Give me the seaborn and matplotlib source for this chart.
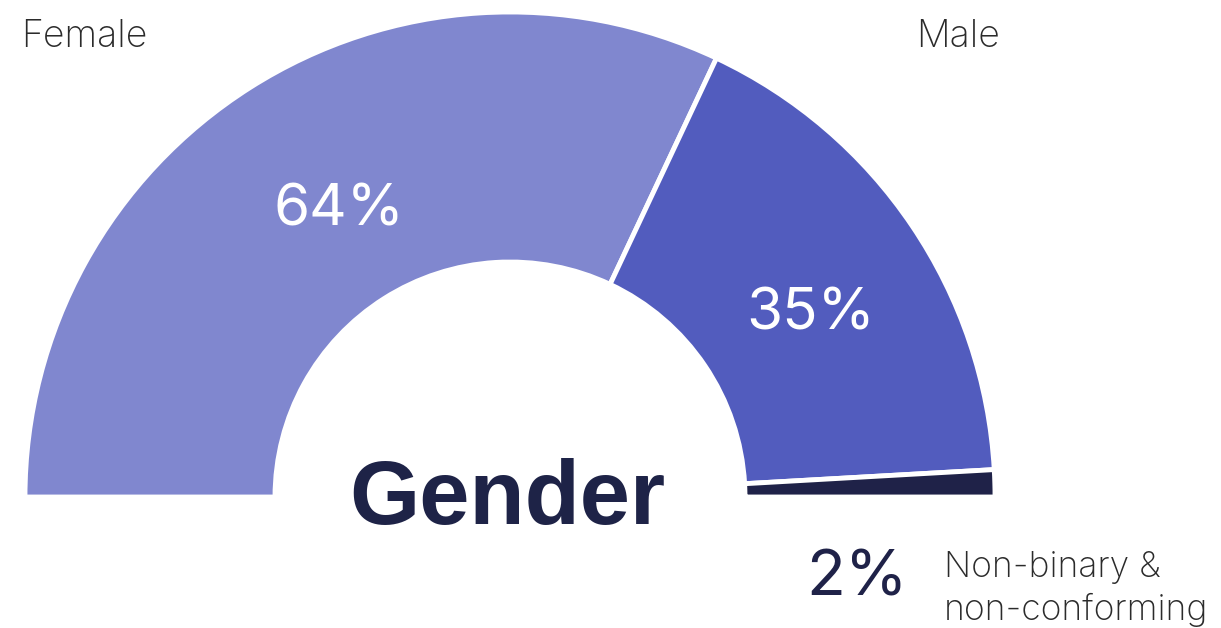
import seaborn as sns
import matplotlib.pyplot as plt

# values (share of the half circle)
categories = ['Female', 'Male', 'Non-binary &\nnon-conforming']
shares = [64, 34.2, 1.8]
pct_labels = ['64%', '35%', '2%']
colors = ['#8087cf', '#525cbe', '#1f2248']

sns.set_theme(style='white')
plt.rcParams['font.family'] = ['Inter', 'DejaVu Sans']

fig = plt.figure(figsize=(12.21, 6.28), dpi=100)
ax = fig.add_axes([0, 0, 1, 1])

# hidden lower half makes the pie a half donut
vals = shares + [sum(shares)]
cols = colors + ['none']
wedges, _ = ax.pie(vals, colors=cols, startangle=180, counterclock=False,
                   center=(510, 131), radius=485, frame=True,
                   wedgeprops=dict(width=250, edgecolor='white', linewidth=3.5))
wedges[-1].set_edgecolor('none')

ax.set_xlim(0, 1221)
ax.set_ylim(0, 628)
ax.set_aspect('equal')
ax.axis('off')

lab_color = '#2b2b2b'
ax.text(21, 581, 'Female', fontsize=27, fontweight='light', color=lab_color, va='baseline')
ax.text(916, 581, 'Male', fontsize=27, fontweight='light', color=lab_color, va='baseline')

ax.text(339, 403, pct_labels[0], fontsize=42, color='white', ha='center', va='baseline')
ax.text(811, 298, pct_labels[1], fontsize=42, color='white', ha='center', va='baseline')

ax.text(507, 104, 'Gender', fontsize=65, fontweight='bold', color='#1e2347',
        ha='center', va='baseline', family=['Liberation Sans', 'DejaVu Sans'])

ax.text(806, 32, pct_labels[2], fontsize=46, color='#1f2248', va='baseline')
ax.text(944, 51, 'Non-binary &', fontsize=25.5, fontweight='light', color=lab_color, va='baseline')
ax.text(944, 8, 'non-conforming', fontsize=25.5, fontweight='light', color=lab_color, va='baseline')

fig.savefig('out.png', dpi=100)
